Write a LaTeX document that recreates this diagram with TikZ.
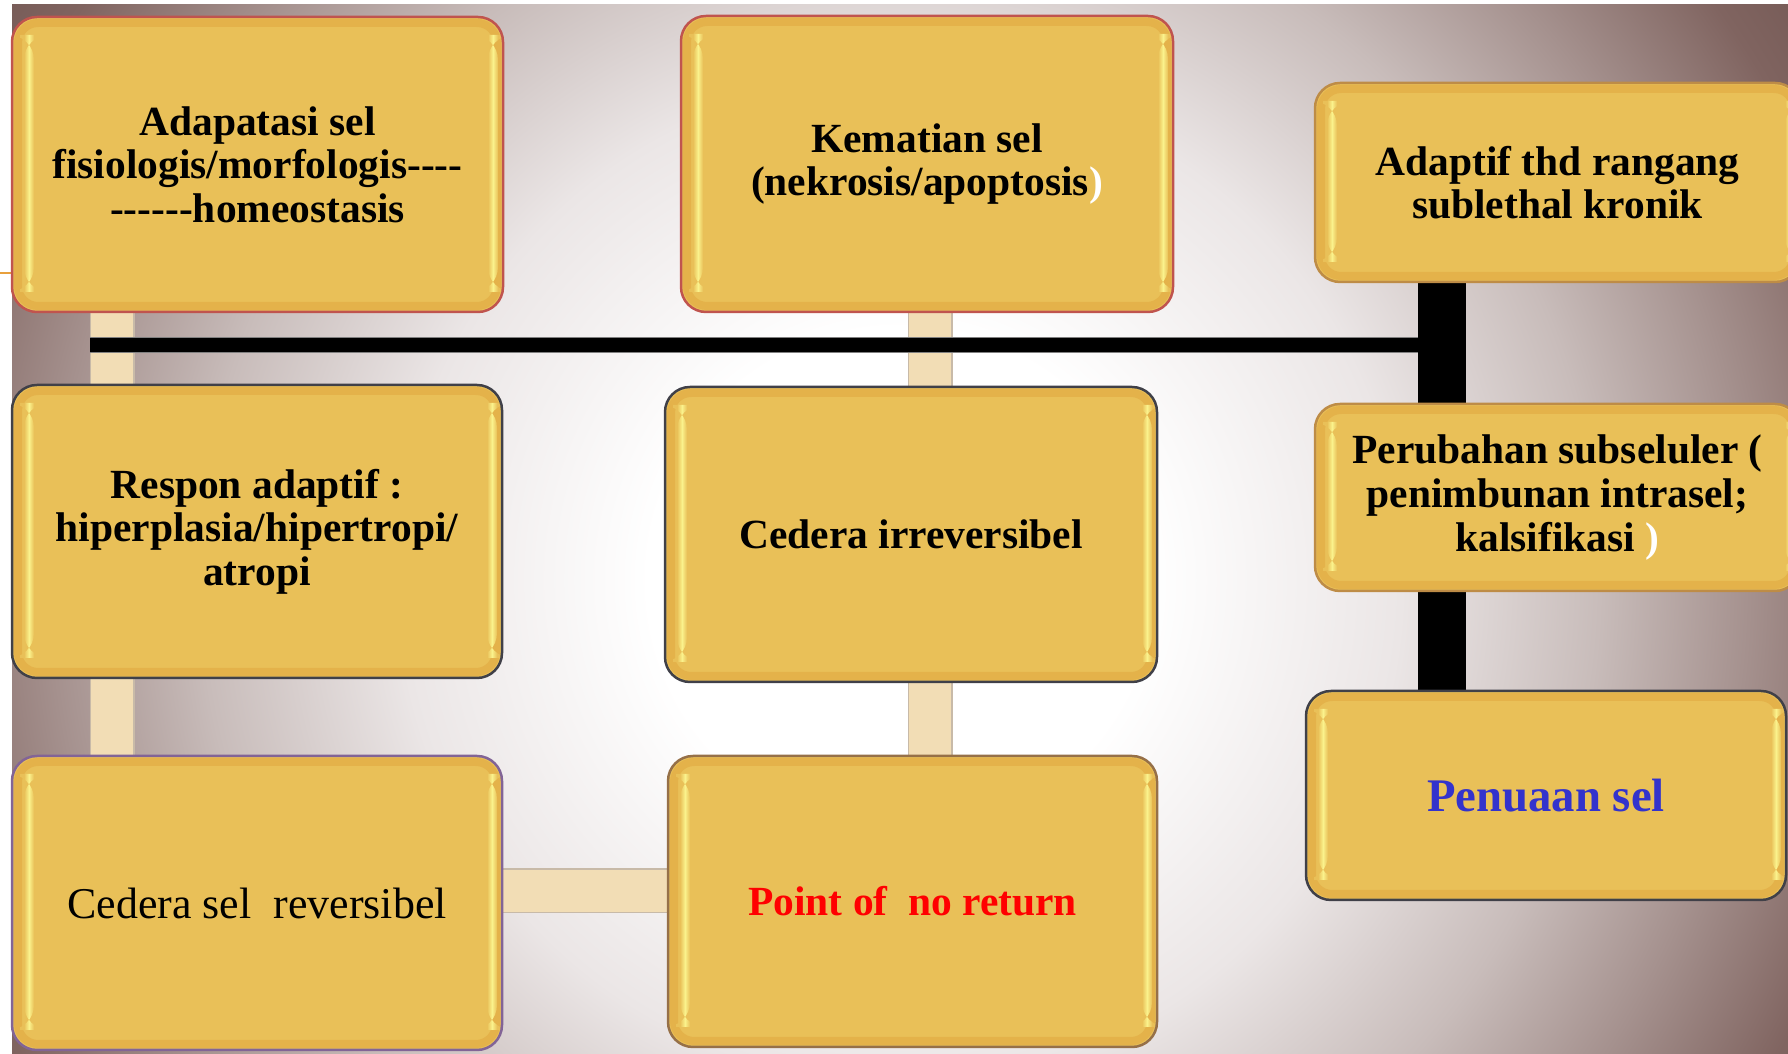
\documentclass[tikz,border=0pt]{standalone}
\usepackage{fontspec}
\setmainfont{Liberation Serif}
\usetikzlibrary{calc}

% palette
\definecolor{gold}{RGB}{233,192,88}
\definecolor{goldedge}{RGB}{228,178,74}
\definecolor{hilite}{RGB}{250,242,140}
\definecolor{beige}{RGB}{242,221,181}
\definecolor{beigeedge}{RGB}{200,186,168}
\definecolor{rimred}{RGB}{192,84,78}
\definecolor{rimdark}{RGB}{64,64,72}
\definecolor{rimgold}{RGB}{190,140,70}
\definecolor{rimpurple}{RGB}{130,100,150}
\definecolor{rimbrown}{RGB}{150,112,72}
\definecolor{bgA}{RGB}{235,230,230}
\definecolor{bgB}{RGB}{200,188,186}
\definecolor{bgC}{RGB}{165,145,142}
\definecolor{bgD}{RGB}{128,100,96}
\definecolor{bgE}{RGB}{115,88,84}
\definecolor{txtred}{RGB}{255,0,0}
\definecolor{txtblue}{RGB}{51,51,204}
\definecolor{tickorange}{RGB}{232,160,60}

% soft glow behind the chart
\pgfdeclareradialshading{backglow}{\pgfpointorigin}{%
  color(0bp)=(white); color(5.7bp)=(white); color(11.4bp)=(bgA);
  color(15.9bp)=(bgB); color(19.3bp)=(bgC); color(22.7bp)=(bgD);
  color(25bp)=(bgE); color(50bp)=(bgE)}

\pgfdeclarelayer{backdrop}
\pgfdeclarelayer{links}
\pgfsetlayers{backdrop,links,main}

% a hyphen that never joins into a dash
\newcommand{\pdash}{-\kern0pt}

\tikzset{
  panel/.style={rectangle, rounded corners=2.5mm, fill=gold, line width=0.25mm,
    inner sep=0pt, align=center,
    font=\fontsize{11.8pt}{12.4pt}\selectfont\bfseries,
    path picture={
      \draw[goldedge, line width=0.8mm, rounded corners=2mm]
        ($(path picture bounding box.south west)+(0.6mm,0.6mm)$) rectangle
        ($(path picture bounding box.north east)+(-0.6mm,-0.6mm)$);
      \shade[left color=gold, right color=gold, middle color=hilite]
        ($(path picture bounding box.south west)+(1.2mm,2.0mm)$) rectangle
        ($(path picture bounding box.north west)+(2.2mm,-1.8mm)$);
      \shade[left color=gold, right color=gold, middle color=hilite]
        ($(path picture bounding box.south east)+(-1.5mm,2.0mm)$) rectangle
        ($(path picture bounding box.north east)+(-0.5mm,-1.8mm)$);
    }},
  beigebar/.style={line width=4.5mm, beigeedge},
  beigecore/.style={line width=4.2mm, beige},
  blackbar/.style={line width=4.8mm, black},
  blackline/.style={line width=1.4mm, black},
  plaintext/.style={font=\fontsize{12.5pt}{13pt}\selectfont},
  bigblue/.style={font=\fontsize{13.3pt}{14pt}\selectfont\bfseries, text=txtblue},
}

\begin{document}
\begin{tikzpicture}[x=0.1mm, y=-0.1mm]
  \useasboundingbox (0,0) rectangle (1788,1054);
  \clip (0,0) rectangle (1788,1054);

  % guide positions for the connector runs
  \coordinate (colL) at (112,0);
  \coordinate (colM) at (930,0);
  \coordinate (colR) at (1442,0);
  \coordinate (rowH) at (0,891);
  \coordinate (hstart) at (90,345);

  % first column
  \node[panel, draw=rimred, minimum width=49.1mm, minimum height=29.5mm] (A) at (257.5,164.5)
    {Adapatasi sel\\fisiologis/morfologis\pdash\pdash\pdash\pdash\\\pdash\pdash\pdash\pdash\pdash\pdash homeostasis};
  \node[panel, draw=rimdark, minimum width=49.0mm, minimum height=29.3mm] (B) at (257,531.5)
    {Respon adaptif :\\hiperplasia/hipertropi/\\atropi};
  \node[panel, plaintext, draw=rimpurple, minimum width=49.0mm, minimum height=29.4mm] (C) at (257,903)
    {Cedera sel~ reversibel};
  % second column
  \node[panel, draw=rimred, minimum width=49.2mm, minimum height=29.6mm] (D) at (927,164)
    {Kematian sel\\(nekrosis/apoptosis\textcolor{white}{)}};
  \node[panel, draw=rimdark, minimum width=49.2mm, minimum height=29.5mm] (F) at (911,534.5)
    {Cedera irreversibel};
  \node[panel, draw=rimbrown, minimum width=48.9mm, minimum height=29.1mm, text=txtred] (H) at (912.5,901.5)
    {Point of~ no return};
  % third column
  \node[panel, draw=rimgold, minimum width=48.5mm, minimum height=19.9mm] (E) at (1557.5,182.5)
    {Adaptif thd rangang\\sublethal kronik};
  \node[panel, draw=rimgold, minimum width=48.5mm, minimum height=18.7mm] (G) at (1557.5,497.5)
    {Perubahan subseluler (\\penimbunan intrasel;\\kalsifikasi \textcolor{white}{)}};
  \node[panel, bigblue, draw=rimdark, minimum width=48.0mm, minimum height=20.9mm] (I) at (1546,795.5)
    {Penuaan sel};

  % backdrop
  \begin{pgfonlayer}{backdrop}
    \coordinate (bgNW) at (12,5);
    \coordinate (bgSE) at (1788,1054);
    \coordinate (glow) at (900,580);
    \fill[white] (0,0) rectangle (1788,1054);
    \begin{scope}
      \clip (bgNW) rectangle (bgSE);
      \shade[shading=backglow] (glow) circle (1100);
    \end{scope}
    \coordinate (tickL) at (0,273);
    \coordinate (tickR) at (12,273);
    \draw[tickorange, line width=0.25mm] (tickL) -- (tickR);
  \end{pgfonlayer}

  % connectors, behind the boxes
  \begin{pgfonlayer}{links}
    \foreach \p/\q in {A/B, B/C} {
      \draw[beigebar] (\p.south -| colL) -- (\q.north -| colL);
      \draw[beigecore] (\p.south -| colL) -- (\q.north -| colL);
    }
    \foreach \p/\q in {D/F, F/H} {
      \draw[beigebar] (\p.south -| colM) -- (\q.north -| colM);
      \draw[beigecore] (\p.south -| colM) -- (\q.north -| colM);
    }
    \draw[beigebar] (C.east |- rowH) -- (H.west |- rowH);
    \draw[beigecore] (C.east |- rowH) -- (H.west |- rowH);
    \draw[gray, line width=1.6mm] (hstart) -- (hstart -| colR);
    \draw[blackline] (hstart) -- (hstart -| colR);
    \draw[blackbar] (E.south -| colR) -- (I.north -| colR);
  \end{pgfonlayer}
\end{tikzpicture}
\end{document}
